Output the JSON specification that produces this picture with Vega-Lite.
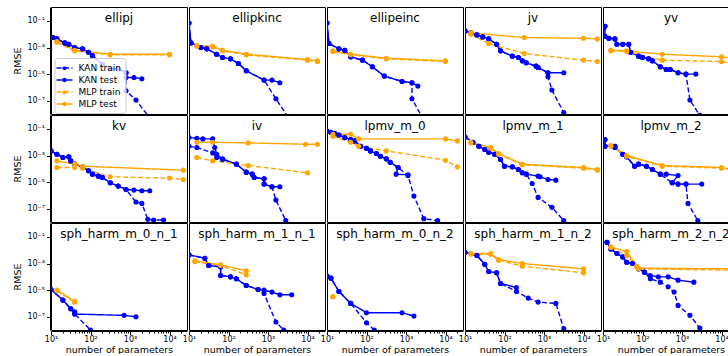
{
"$schema": "https://vega.github.io/schema/vega-lite/v6.json",
"padding": {"left": 12, "top": 6, "right": 0, "bottom": 0},
"data": {"values": [
{"f":"ellipj","s":"KAN train","x":11.2,"y":5.62e-3},{"f":"ellipj","s":"KAN train","x":14.1,"y":4.47e-3},{"f":"ellipj","s":"KAN train","x":22.4,"y":2.24e-3},{"f":"ellipj","s":"KAN train","x":28.2,"y":1.78e-3},{"f":"ellipj","s":"KAN train","x":39.8,"y":1e-3},{"f":"ellipj","s":"KAN train","x":63.1,"y":7.94e-4},{"f":"ellipj","s":"KAN train","x":89.1,"y":4.47e-4},{"f":"ellipj","s":"KAN train","x":112,"y":2.51e-4},{"f":"ellipj","s":"KAN train","x":200,"y":5.62e-5},{"f":"ellipj","s":"KAN train","x":316,"y":2.51e-5},{"f":"ellipj","s":"KAN train","x":501,"y":2.51e-5},{"f":"ellipj","s":"KAN train","x":794,"y":1.26e-5},{"f":"ellipj","s":"KAN train","x":794,"y":5.62e-7},{"f":"ellipj","s":"KAN train","x":1413,"y":1.12e-7},{"f":"ellipj","s":"KAN train","x":3162,"y":5.01e-9},
{"f":"ellipj","s":"KAN test","x":11.2,"y":5.62e-3},{"f":"ellipj","s":"KAN test","x":14.1,"y":4.47e-3},{"f":"ellipj","s":"KAN test","x":22.4,"y":2.24e-3},{"f":"ellipj","s":"KAN test","x":28.2,"y":1.78e-3},{"f":"ellipj","s":"KAN test","x":39.8,"y":1e-3},{"f":"ellipj","s":"KAN test","x":63.1,"y":7.94e-4},{"f":"ellipj","s":"KAN test","x":89.1,"y":4.47e-4},{"f":"ellipj","s":"KAN test","x":112,"y":2.24e-4},{"f":"ellipj","s":"KAN test","x":200,"y":5.62e-5},{"f":"ellipj","s":"KAN test","x":316,"y":2.51e-5},{"f":"ellipj","s":"KAN test","x":501,"y":2.51e-5},{"f":"ellipj","s":"KAN test","x":794,"y":1.26e-5},{"f":"ellipj","s":"KAN test","x":794,"y":5.62e-6},{"f":"ellipj","s":"KAN test","x":1259,"y":5.62e-6},{"f":"ellipj","s":"KAN test","x":1995,"y":4.47e-6},
{"f":"ellipj","s":"MLP train","x":14.1,"y":2.51e-3},{"f":"ellipj","s":"MLP train","x":39.8,"y":5.62e-4},{"f":"ellipj","s":"MLP train","x":316,"y":2.82e-4},{"f":"ellipj","s":"MLP train","x":10000,"y":2.82e-4},
{"f":"ellipj","s":"MLP test","x":14.1,"y":2.82e-3},{"f":"ellipj","s":"MLP test","x":39.8,"y":6.31e-4},{"f":"ellipj","s":"MLP test","x":316,"y":3.16e-4},{"f":"ellipj","s":"MLP test","x":10000,"y":3.16e-4},

{"f":"ellipkinc","s":"KAN train","x":10,"y":7.08e-2},{"f":"ellipkinc","s":"KAN train","x":11.2,"y":2.24e-3},{"f":"ellipkinc","s":"KAN train","x":20,"y":1e-3},{"f":"ellipkinc","s":"KAN train","x":28.2,"y":7.94e-4},{"f":"ellipkinc","s":"KAN train","x":50.1,"y":3.16e-4},{"f":"ellipkinc","s":"KAN train","x":70.8,"y":1.78e-4},{"f":"ellipkinc","s":"KAN train","x":112,"y":1.41e-4},{"f":"ellipkinc","s":"KAN train","x":178,"y":6.31e-5},{"f":"ellipkinc","s":"KAN train","x":282,"y":1.78e-5},{"f":"ellipkinc","s":"KAN train","x":794,"y":3.55e-6},{"f":"ellipkinc","s":"KAN train","x":1585,"y":1.41e-7},{"f":"ellipkinc","s":"KAN train","x":3162,"y":6.31e-9},
{"f":"ellipkinc","s":"KAN test","x":10,"y":7.08e-2},{"f":"ellipkinc","s":"KAN test","x":11.2,"y":2.24e-3},{"f":"ellipkinc","s":"KAN test","x":20,"y":1e-3},{"f":"ellipkinc","s":"KAN test","x":28.2,"y":7.94e-4},{"f":"ellipkinc","s":"KAN test","x":50.1,"y":3.16e-4},{"f":"ellipkinc","s":"KAN test","x":70.8,"y":1.78e-4},{"f":"ellipkinc","s":"KAN test","x":112,"y":1.41e-4},{"f":"ellipkinc","s":"KAN test","x":178,"y":6.31e-5},{"f":"ellipkinc","s":"KAN test","x":282,"y":1.78e-5},{"f":"ellipkinc","s":"KAN test","x":794,"y":3.55e-6},{"f":"ellipkinc","s":"KAN test","x":1259,"y":3.55e-6},{"f":"ellipkinc","s":"KAN test","x":1995,"y":2.24e-6},
{"f":"ellipkinc","s":"MLP train","x":15.8,"y":1.26e-3},{"f":"ellipkinc","s":"MLP train","x":39.8,"y":1.12e-3},{"f":"ellipkinc","s":"MLP train","x":70.8,"y":5.62e-4},{"f":"ellipkinc","s":"MLP train","x":282,"y":2.82e-4},{"f":"ellipkinc","s":"MLP train","x":10000,"y":1.12e-4},{"f":"ellipkinc","s":"MLP train","x":17783,"y":8.91e-5},
{"f":"ellipkinc","s":"MLP test","x":15.8,"y":1.41e-3},{"f":"ellipkinc","s":"MLP test","x":39.8,"y":1.26e-3},{"f":"ellipkinc","s":"MLP test","x":70.8,"y":6.31e-4},{"f":"ellipkinc","s":"MLP test","x":282,"y":3.16e-4},{"f":"ellipkinc","s":"MLP test","x":10000,"y":1.26e-4},{"f":"ellipkinc","s":"MLP test","x":17783,"y":1e-4},

{"f":"ellipeinc","s":"KAN train","x":10,"y":7.08e-2},{"f":"ellipeinc","s":"KAN train","x":11.2,"y":2e-3},{"f":"ellipeinc","s":"KAN train","x":20,"y":7.94e-4},{"f":"ellipeinc","s":"KAN train","x":28.2,"y":6.31e-4},{"f":"ellipeinc","s":"KAN train","x":39.8,"y":2e-4},{"f":"ellipeinc","s":"KAN train","x":79.4,"y":1.12e-4},{"f":"ellipeinc","s":"KAN train","x":141,"y":3.55e-5},{"f":"ellipeinc","s":"KAN train","x":282,"y":7.08e-6},{"f":"ellipeinc","s":"KAN train","x":794,"y":2.82e-6},{"f":"ellipeinc","s":"KAN train","x":1413,"y":2.24e-6},{"f":"ellipeinc","s":"KAN train","x":1413,"y":1.41e-7},{"f":"ellipeinc","s":"KAN train","x":2512,"y":6.31e-9},
{"f":"ellipeinc","s":"KAN test","x":10,"y":7.08e-2},{"f":"ellipeinc","s":"KAN test","x":11.2,"y":2e-3},{"f":"ellipeinc","s":"KAN test","x":20,"y":7.94e-4},{"f":"ellipeinc","s":"KAN test","x":28.2,"y":6.31e-4},{"f":"ellipeinc","s":"KAN test","x":39.8,"y":2e-4},{"f":"ellipeinc","s":"KAN test","x":79.4,"y":1.12e-4},{"f":"ellipeinc","s":"KAN test","x":141,"y":3.55e-5},{"f":"ellipeinc","s":"KAN test","x":282,"y":7.08e-6},{"f":"ellipeinc","s":"KAN test","x":794,"y":2.82e-6},{"f":"ellipeinc","s":"KAN test","x":1413,"y":2.24e-6},{"f":"ellipeinc","s":"KAN test","x":1995,"y":1.26e-6},
{"f":"ellipeinc","s":"MLP train","x":14.1,"y":5.01e-4},{"f":"ellipeinc","s":"MLP train","x":39.8,"y":2.82e-4},{"f":"ellipeinc","s":"MLP train","x":316,"y":1.41e-4},{"f":"ellipeinc","s":"MLP train","x":10000,"y":8.91e-5},
{"f":"ellipeinc","s":"MLP test","x":14.1,"y":5.62e-4},{"f":"ellipeinc","s":"MLP test","x":39.8,"y":3.16e-4},{"f":"ellipeinc","s":"MLP test","x":316,"y":1.58e-4},{"f":"ellipeinc","s":"MLP test","x":10000,"y":1e-4},

{"f":"jv","s":"KAN train","x":10,"y":1.78e-2},{"f":"jv","s":"KAN train","x":14.1,"y":1.26e-2},{"f":"jv","s":"KAN train","x":20,"y":8.91e-3},{"f":"jv","s":"KAN train","x":28.2,"y":6.31e-3},{"f":"jv","s":"KAN train","x":39.8,"y":4.47e-3},{"f":"jv","s":"KAN train","x":63.1,"y":1.78e-3},{"f":"jv","s":"KAN train","x":79.4,"y":5.62e-4},{"f":"jv","s":"KAN train","x":158,"y":2.24e-4},{"f":"jv","s":"KAN train","x":224,"y":1.78e-4},{"f":"jv","s":"KAN train","x":282,"y":1e-4},{"f":"jv","s":"KAN train","x":355,"y":7.08e-5},{"f":"jv","s":"KAN train","x":631,"y":3.98e-5},{"f":"jv","s":"KAN train","x":708,"y":3.16e-5},{"f":"jv","s":"KAN train","x":1259,"y":1.26e-5},{"f":"jv","s":"KAN train","x":1259,"y":6.31e-6},{"f":"jv","s":"KAN train","x":1585,"y":6.31e-7},{"f":"jv","s":"KAN train","x":3162,"y":1.26e-8},{"f":"jv","s":"KAN train","x":3981,"y":5.01e-9},
{"f":"jv","s":"KAN test","x":10,"y":1.78e-2},{"f":"jv","s":"KAN test","x":14.1,"y":1.26e-2},{"f":"jv","s":"KAN test","x":20,"y":8.91e-3},{"f":"jv","s":"KAN test","x":28.2,"y":6.31e-3},{"f":"jv","s":"KAN test","x":39.8,"y":4.47e-3},{"f":"jv","s":"KAN test","x":63.1,"y":1.78e-3},{"f":"jv","s":"KAN test","x":79.4,"y":5.62e-4},{"f":"jv","s":"KAN test","x":158,"y":2.24e-4},{"f":"jv","s":"KAN test","x":224,"y":1.78e-4},{"f":"jv","s":"KAN test","x":282,"y":1e-4},{"f":"jv","s":"KAN test","x":355,"y":7.08e-5},{"f":"jv","s":"KAN test","x":631,"y":3.98e-5},{"f":"jv","s":"KAN test","x":708,"y":3.16e-5},{"f":"jv","s":"KAN test","x":1259,"y":1.26e-5},{"f":"jv","s":"KAN test","x":3162,"y":1.26e-5},
{"f":"jv","s":"MLP train","x":14.1,"y":1e-2},{"f":"jv","s":"MLP train","x":39.8,"y":2e-3},{"f":"jv","s":"MLP train","x":316,"y":3.55e-4},{"f":"jv","s":"MLP train","x":10000,"y":1.12e-4},{"f":"jv","s":"MLP train","x":22387,"y":8.91e-5},
{"f":"jv","s":"MLP test","x":14.1,"y":1.26e-2},{"f":"jv","s":"MLP test","x":316,"y":5.62e-3},{"f":"jv","s":"MLP test","x":10000,"y":5.01e-3},{"f":"jv","s":"MLP test","x":22387,"y":4.47e-3},

{"f":"yv","s":"KAN train","x":11.2,"y":3.98e-2},{"f":"yv","s":"KAN train","x":11.2,"y":7.08e-3},{"f":"yv","s":"KAN train","x":14.1,"y":5.01e-3},{"f":"yv","s":"KAN train","x":20,"y":4.47e-3},{"f":"yv","s":"KAN train","x":22.4,"y":1.78e-3},{"f":"yv","s":"KAN train","x":31.6,"y":1.78e-3},{"f":"yv","s":"KAN train","x":44.7,"y":1.78e-3},{"f":"yv","s":"KAN train","x":50.1,"y":4.47e-4},{"f":"yv","s":"KAN train","x":79.4,"y":2.24e-4},{"f":"yv","s":"KAN train","x":100,"y":1.78e-4},{"f":"yv","s":"KAN train","x":141,"y":1.41e-4},{"f":"yv","s":"KAN train","x":178,"y":1e-4},{"f":"yv","s":"KAN train","x":282,"y":3.55e-5},{"f":"yv","s":"KAN train","x":398,"y":2.24e-5},{"f":"yv","s":"KAN train","x":501,"y":2.24e-5},{"f":"yv","s":"KAN train","x":794,"y":1.26e-5},{"f":"yv","s":"KAN train","x":1259,"y":1e-5},{"f":"yv","s":"KAN train","x":1585,"y":1.12e-7},{"f":"yv","s":"KAN train","x":2818,"y":7.94e-9},
{"f":"yv","s":"KAN test","x":11.2,"y":3.98e-2},{"f":"yv","s":"KAN test","x":11.2,"y":7.08e-3},{"f":"yv","s":"KAN test","x":14.1,"y":5.01e-3},{"f":"yv","s":"KAN test","x":20,"y":4.47e-3},{"f":"yv","s":"KAN test","x":22.4,"y":1.78e-3},{"f":"yv","s":"KAN test","x":31.6,"y":1.78e-3},{"f":"yv","s":"KAN test","x":44.7,"y":1.78e-3},{"f":"yv","s":"KAN test","x":50.1,"y":4.47e-4},{"f":"yv","s":"KAN test","x":79.4,"y":2.24e-4},{"f":"yv","s":"KAN test","x":100,"y":1.78e-4},{"f":"yv","s":"KAN test","x":141,"y":1.41e-4},{"f":"yv","s":"KAN test","x":178,"y":1e-4},{"f":"yv","s":"KAN test","x":282,"y":3.55e-5},{"f":"yv","s":"KAN test","x":398,"y":2.24e-5},{"f":"yv","s":"KAN test","x":501,"y":2.24e-5},{"f":"yv","s":"KAN test","x":794,"y":1.26e-5},{"f":"yv","s":"KAN test","x":1259,"y":1e-5},{"f":"yv","s":"KAN test","x":2239,"y":1e-5},
{"f":"yv","s":"MLP train","x":15.8,"y":5.62e-4},{"f":"yv","s":"MLP train","x":39.8,"y":5.01e-4},{"f":"yv","s":"MLP train","x":316,"y":1.12e-4},{"f":"yv","s":"MLP train","x":10000,"y":8.91e-5},{"f":"yv","s":"MLP train","x":19953,"y":6.31e-5},
{"f":"yv","s":"MLP test","x":15.8,"y":6.31e-4},{"f":"yv","s":"MLP test","x":39.8,"y":5.62e-4},{"f":"yv","s":"MLP test","x":316,"y":3.16e-4},{"f":"yv","s":"MLP test","x":10000,"y":2e-4},{"f":"yv","s":"MLP test","x":19953,"y":1.58e-4},

{"f":"kv","s":"KAN train","x":10,"y":2.24e-3},{"f":"kv","s":"KAN train","x":14.1,"y":1.26e-3},{"f":"kv","s":"KAN train","x":20,"y":7.08e-4},{"f":"kv","s":"KAN train","x":28.2,"y":7.94e-4},{"f":"kv","s":"KAN train","x":31.6,"y":3.98e-4},{"f":"kv","s":"KAN train","x":39.8,"y":2.24e-4},{"f":"kv","s":"KAN train","x":63.1,"y":1.41e-4},{"f":"kv","s":"KAN train","x":89.1,"y":7.08e-5},{"f":"kv","s":"KAN train","x":112,"y":3.98e-5},{"f":"kv","s":"KAN train","x":158,"y":2.82e-5},{"f":"kv","s":"KAN train","x":200,"y":2.24e-5},{"f":"kv","s":"KAN train","x":316,"y":8.91e-6},{"f":"kv","s":"KAN train","x":501,"y":5.01e-6},{"f":"kv","s":"KAN train","x":794,"y":2.82e-6},{"f":"kv","s":"KAN train","x":1413,"y":3.16e-7},{"f":"kv","s":"KAN train","x":1995,"y":2.51e-7},{"f":"kv","s":"KAN train","x":2818,"y":1.58e-8},{"f":"kv","s":"KAN train","x":3981,"y":1.41e-8},{"f":"kv","s":"KAN train","x":7079,"y":1.41e-8},
{"f":"kv","s":"KAN test","x":10,"y":2.24e-3},{"f":"kv","s":"KAN test","x":14.1,"y":1.26e-3},{"f":"kv","s":"KAN test","x":20,"y":7.08e-4},{"f":"kv","s":"KAN test","x":28.2,"y":7.94e-4},{"f":"kv","s":"KAN test","x":31.6,"y":3.98e-4},{"f":"kv","s":"KAN test","x":39.8,"y":2.24e-4},{"f":"kv","s":"KAN test","x":63.1,"y":1.41e-4},{"f":"kv","s":"KAN test","x":89.1,"y":7.08e-5},{"f":"kv","s":"KAN test","x":112,"y":3.98e-5},{"f":"kv","s":"KAN test","x":158,"y":2.82e-5},{"f":"kv","s":"KAN test","x":200,"y":2.24e-5},{"f":"kv","s":"KAN test","x":316,"y":8.91e-6},{"f":"kv","s":"KAN test","x":501,"y":5.01e-6},{"f":"kv","s":"KAN test","x":794,"y":2.82e-6},{"f":"kv","s":"KAN test","x":1259,"y":2.51e-6},{"f":"kv","s":"KAN test","x":1995,"y":2.24e-6},{"f":"kv","s":"KAN test","x":3162,"y":2.24e-6},
{"f":"kv","s":"MLP train","x":14.1,"y":1.26e-4},{"f":"kv","s":"MLP train","x":39.8,"y":1.26e-4},{"f":"kv","s":"MLP train","x":63.1,"y":1.12e-4},{"f":"kv","s":"MLP train","x":316,"y":2.51e-5},{"f":"kv","s":"MLP train","x":10000,"y":2e-5},{"f":"kv","s":"MLP train","x":22387,"y":1.58e-5},
{"f":"kv","s":"MLP test","x":14.1,"y":3.98e-4},{"f":"kv","s":"MLP test","x":39.8,"y":2.24e-4},{"f":"kv","s":"MLP test","x":63.1,"y":1.58e-4},{"f":"kv","s":"MLP test","x":22387,"y":7.94e-5},

{"f":"iv","s":"KAN train","x":10,"y":5.01e-3},{"f":"iv","s":"KAN train","x":15.8,"y":3.98e-3},{"f":"iv","s":"KAN train","x":39.8,"y":1.58e-3},{"f":"iv","s":"KAN train","x":50.1,"y":7.08e-4},{"f":"iv","s":"KAN train","x":70.8,"y":5.01e-4},{"f":"iv","s":"KAN train","x":158,"y":2.24e-4},{"f":"iv","s":"KAN train","x":282,"y":5.62e-5},{"f":"iv","s":"KAN train","x":398,"y":3.98e-5},{"f":"iv","s":"KAN train","x":447,"y":2.24e-5},{"f":"iv","s":"KAN train","x":794,"y":1.78e-5},{"f":"iv","s":"KAN train","x":794,"y":7.08e-6},{"f":"iv","s":"KAN train","x":1259,"y":4.47e-6},{"f":"iv","s":"KAN train","x":1585,"y":4.47e-7},{"f":"iv","s":"KAN train","x":2818,"y":1.26e-8},{"f":"iv","s":"KAN train","x":3548,"y":5.01e-9},
{"f":"iv","s":"KAN test","x":10,"y":2.24e-2},{"f":"iv","s":"KAN test","x":15.8,"y":2e-2},{"f":"iv","s":"KAN test","x":22.4,"y":1.78e-2},{"f":"iv","s":"KAN test","x":39.8,"y":1.78e-2},{"f":"iv","s":"KAN test","x":44.7,"y":3.98e-3},{"f":"iv","s":"KAN test","x":50.1,"y":1.26e-3},{"f":"iv","s":"KAN test","x":70.8,"y":5.62e-4},{"f":"iv","s":"KAN test","x":158,"y":2.24e-4},{"f":"iv","s":"KAN test","x":282,"y":5.62e-5},{"f":"iv","s":"KAN test","x":398,"y":3.98e-5},{"f":"iv","s":"KAN test","x":447,"y":2.24e-5},{"f":"iv","s":"KAN test","x":794,"y":1.78e-5},{"f":"iv","s":"KAN test","x":794,"y":7.08e-6},{"f":"iv","s":"KAN test","x":1259,"y":4.47e-6},{"f":"iv","s":"KAN test","x":1995,"y":4.47e-6},
{"f":"iv","s":"MLP train","x":15.8,"y":7.08e-4},{"f":"iv","s":"MLP train","x":39.8,"y":3.98e-4},{"f":"iv","s":"MLP train","x":316,"y":1.78e-4},{"f":"iv","s":"MLP train","x":10000,"y":5.01e-5},
{"f":"iv","s":"MLP test","x":15.8,"y":1e-2},{"f":"iv","s":"MLP test","x":39.8,"y":1e-2},{"f":"iv","s":"MLP test","x":316,"y":8.91e-3},{"f":"iv","s":"MLP test","x":8913,"y":7.08e-3},{"f":"iv","s":"MLP test","x":17783,"y":7.08e-3},

{"f":"lpmv_m_0","s":"KAN train","x":10,"y":7.08e-2},{"f":"lpmv_m_0","s":"KAN train","x":12.6,"y":5.62e-2},{"f":"lpmv_m_0","s":"KAN train","x":15.8,"y":4.47e-2},{"f":"lpmv_m_0","s":"KAN train","x":20,"y":3.55e-2},{"f":"lpmv_m_0","s":"KAN train","x":28.2,"y":2.24e-2},{"f":"lpmv_m_0","s":"KAN train","x":39.8,"y":1.58e-2},{"f":"lpmv_m_0","s":"KAN train","x":50.1,"y":1.26e-2},{"f":"lpmv_m_0","s":"KAN train","x":70.8,"y":5.01e-3},{"f":"lpmv_m_0","s":"KAN train","x":100,"y":3.55e-3},{"f":"lpmv_m_0","s":"KAN train","x":126,"y":2.24e-3},{"f":"lpmv_m_0","s":"KAN train","x":178,"y":1.41e-3},{"f":"lpmv_m_0","s":"KAN train","x":224,"y":8.91e-4},{"f":"lpmv_m_0","s":"KAN train","x":316,"y":5.62e-4},{"f":"lpmv_m_0","s":"KAN train","x":398,"y":3.16e-4},{"f":"lpmv_m_0","s":"KAN train","x":631,"y":1.26e-4},{"f":"lpmv_m_0","s":"KAN train","x":1122,"y":3.16e-5},{"f":"lpmv_m_0","s":"KAN train","x":1585,"y":8.91e-7},{"f":"lpmv_m_0","s":"KAN train","x":2818,"y":1.78e-8},{"f":"lpmv_m_0","s":"KAN train","x":6310,"y":1.26e-8},
{"f":"lpmv_m_0","s":"KAN test","x":10,"y":7.08e-2},{"f":"lpmv_m_0","s":"KAN test","x":12.6,"y":5.62e-2},{"f":"lpmv_m_0","s":"KAN test","x":15.8,"y":4.47e-2},{"f":"lpmv_m_0","s":"KAN test","x":20,"y":3.55e-2},{"f":"lpmv_m_0","s":"KAN test","x":28.2,"y":2.24e-2},{"f":"lpmv_m_0","s":"KAN test","x":39.8,"y":1.58e-2},{"f":"lpmv_m_0","s":"KAN test","x":50.1,"y":1.26e-2},{"f":"lpmv_m_0","s":"KAN test","x":70.8,"y":5.01e-3},{"f":"lpmv_m_0","s":"KAN test","x":100,"y":3.55e-3},{"f":"lpmv_m_0","s":"KAN test","x":126,"y":2.24e-3},{"f":"lpmv_m_0","s":"KAN test","x":178,"y":1.41e-3},{"f":"lpmv_m_0","s":"KAN test","x":224,"y":8.91e-4},{"f":"lpmv_m_0","s":"KAN test","x":316,"y":5.62e-4},{"f":"lpmv_m_0","s":"KAN test","x":398,"y":3.16e-4},{"f":"lpmv_m_0","s":"KAN test","x":631,"y":1.26e-4},{"f":"lpmv_m_0","s":"KAN test","x":562,"y":3.98e-5},{"f":"lpmv_m_0","s":"KAN test","x":1122,"y":3.55e-5},
{"f":"lpmv_m_0","s":"MLP train","x":14.1,"y":2.82e-2},{"f":"lpmv_m_0","s":"MLP train","x":39.8,"y":1e-2},{"f":"lpmv_m_0","s":"MLP train","x":63.1,"y":5.01e-3},{"f":"lpmv_m_0","s":"MLP train","x":316,"y":2.24e-3},{"f":"lpmv_m_0","s":"MLP train","x":10000,"y":4.47e-4},{"f":"lpmv_m_0","s":"MLP train","x":19953,"y":1.41e-4},
{"f":"lpmv_m_0","s":"MLP test","x":14.1,"y":3.98e-2},{"f":"lpmv_m_0","s":"MLP test","x":39.8,"y":3.98e-2},{"f":"lpmv_m_0","s":"MLP test","x":63.1,"y":1.78e-2},{"f":"lpmv_m_0","s":"MLP test","x":10000,"y":1.78e-2},{"f":"lpmv_m_0","s":"MLP test","x":19953,"y":1.26e-2},

{"f":"lpmv_m_1","s":"KAN train","x":10,"y":2.51e-2},{"f":"lpmv_m_1","s":"KAN train","x":15.8,"y":1e-2},{"f":"lpmv_m_1","s":"KAN train","x":22.4,"y":5.01e-3},{"f":"lpmv_m_1","s":"KAN train","x":31.6,"y":2.82e-3},{"f":"lpmv_m_1","s":"KAN train","x":39.8,"y":1.78e-3},{"f":"lpmv_m_1","s":"KAN train","x":56.2,"y":1.26e-3},{"f":"lpmv_m_1","s":"KAN train","x":79.4,"y":5.01e-4},{"f":"lpmv_m_1","s":"KAN train","x":100,"y":1.58e-4},{"f":"lpmv_m_1","s":"KAN train","x":158,"y":1.41e-4},{"f":"lpmv_m_1","s":"KAN train","x":224,"y":8.91e-5},{"f":"lpmv_m_1","s":"KAN train","x":282,"y":5.01e-5},{"f":"lpmv_m_1","s":"KAN train","x":355,"y":3.98e-5},{"f":"lpmv_m_1","s":"KAN train","x":501,"y":7.94e-6},{"f":"lpmv_m_1","s":"KAN train","x":708,"y":7.08e-7},{"f":"lpmv_m_1","s":"KAN train","x":1585,"y":1.26e-7},{"f":"lpmv_m_1","s":"KAN train","x":3162,"y":1.26e-8},{"f":"lpmv_m_1","s":"KAN train","x":3981,"y":5.01e-9},
{"f":"lpmv_m_1","s":"KAN test","x":10,"y":2.51e-2},{"f":"lpmv_m_1","s":"KAN test","x":15.8,"y":1e-2},{"f":"lpmv_m_1","s":"KAN test","x":22.4,"y":5.01e-3},{"f":"lpmv_m_1","s":"KAN test","x":31.6,"y":2.82e-3},{"f":"lpmv_m_1","s":"KAN test","x":39.8,"y":1.78e-3},{"f":"lpmv_m_1","s":"KAN test","x":56.2,"y":1.26e-3},{"f":"lpmv_m_1","s":"KAN test","x":79.4,"y":5.01e-4},{"f":"lpmv_m_1","s":"KAN test","x":100,"y":1.58e-4},{"f":"lpmv_m_1","s":"KAN test","x":158,"y":1.41e-4},{"f":"lpmv_m_1","s":"KAN test","x":224,"y":8.91e-5},{"f":"lpmv_m_1","s":"KAN test","x":282,"y":5.01e-5},{"f":"lpmv_m_1","s":"KAN test","x":355,"y":3.98e-5},{"f":"lpmv_m_1","s":"KAN test","x":708,"y":2.82e-5},{"f":"lpmv_m_1","s":"KAN test","x":794,"y":2.51e-5},{"f":"lpmv_m_1","s":"KAN test","x":1259,"y":1.58e-5},{"f":"lpmv_m_1","s":"KAN test","x":1995,"y":1.41e-5},
{"f":"lpmv_m_1","s":"MLP train","x":14.1,"y":8.91e-3},{"f":"lpmv_m_1","s":"MLP train","x":44.7,"y":3.55e-3},{"f":"lpmv_m_1","s":"MLP train","x":70.8,"y":1.26e-3},{"f":"lpmv_m_1","s":"MLP train","x":282,"y":2e-4},{"f":"lpmv_m_1","s":"MLP train","x":10000,"y":1.12e-4},{"f":"lpmv_m_1","s":"MLP train","x":22387,"y":7.94e-5},
{"f":"lpmv_m_1","s":"MLP test","x":14.1,"y":1e-2},{"f":"lpmv_m_1","s":"MLP test","x":44.7,"y":3.98e-3},{"f":"lpmv_m_1","s":"MLP test","x":70.8,"y":1.41e-3},{"f":"lpmv_m_1","s":"MLP test","x":282,"y":2.24e-4},{"f":"lpmv_m_1","s":"MLP test","x":10000,"y":1.26e-4},{"f":"lpmv_m_1","s":"MLP test","x":22387,"y":8.91e-5},

{"f":"lpmv_m_2","s":"KAN train","x":11.2,"y":1.58e-2},{"f":"lpmv_m_2","s":"KAN train","x":11.2,"y":5.01e-3},{"f":"lpmv_m_2","s":"KAN train","x":20,"y":5.01e-3},{"f":"lpmv_m_2","s":"KAN train","x":20,"y":3.98e-3},{"f":"lpmv_m_2","s":"KAN train","x":31.6,"y":1.26e-3},{"f":"lpmv_m_2","s":"KAN train","x":39.8,"y":7.94e-4},{"f":"lpmv_m_2","s":"KAN train","x":63.1,"y":1.58e-4},{"f":"lpmv_m_2","s":"KAN train","x":79.4,"y":2.24e-4},{"f":"lpmv_m_2","s":"KAN train","x":126,"y":1.58e-4},{"f":"lpmv_m_2","s":"KAN train","x":178,"y":8.91e-5},{"f":"lpmv_m_2","s":"KAN train","x":282,"y":3.98e-5},{"f":"lpmv_m_2","s":"KAN train","x":562,"y":8.91e-6},{"f":"lpmv_m_2","s":"KAN train","x":794,"y":7.08e-6},{"f":"lpmv_m_2","s":"KAN train","x":1259,"y":7.08e-6},{"f":"lpmv_m_2","s":"KAN train","x":1413,"y":2.51e-7},{"f":"lpmv_m_2","s":"KAN train","x":2512,"y":1.26e-8},{"f":"lpmv_m_2","s":"KAN train","x":3162,"y":5.01e-9},
{"f":"lpmv_m_2","s":"KAN test","x":11.2,"y":1.58e-2},{"f":"lpmv_m_2","s":"KAN test","x":11.2,"y":5.01e-3},{"f":"lpmv_m_2","s":"KAN test","x":20,"y":5.01e-3},{"f":"lpmv_m_2","s":"KAN test","x":20,"y":3.98e-3},{"f":"lpmv_m_2","s":"KAN test","x":31.6,"y":1.26e-3},{"f":"lpmv_m_2","s":"KAN test","x":39.8,"y":7.94e-4},{"f":"lpmv_m_2","s":"KAN test","x":63.1,"y":1.58e-4},{"f":"lpmv_m_2","s":"KAN test","x":79.4,"y":2.24e-4},{"f":"lpmv_m_2","s":"KAN test","x":126,"y":1.58e-4},{"f":"lpmv_m_2","s":"KAN test","x":178,"y":8.91e-5},{"f":"lpmv_m_2","s":"KAN test","x":282,"y":3.98e-5},{"f":"lpmv_m_2","s":"KAN test","x":398,"y":3.98e-5},{"f":"lpmv_m_2","s":"KAN test","x":794,"y":3.16e-5},{"f":"lpmv_m_2","s":"KAN test","x":562,"y":8.91e-6},{"f":"lpmv_m_2","s":"KAN test","x":794,"y":7.08e-6},{"f":"lpmv_m_2","s":"KAN test","x":1259,"y":7.08e-6},{"f":"lpmv_m_2","s":"KAN test","x":3162,"y":7.08e-6},
{"f":"lpmv_m_2","s":"MLP train","x":15.8,"y":5.01e-3},{"f":"lpmv_m_2","s":"MLP train","x":39.8,"y":8.91e-4},{"f":"lpmv_m_2","s":"MLP train","x":316,"y":1.58e-4},{"f":"lpmv_m_2","s":"MLP train","x":10000,"y":1.12e-4},{"f":"lpmv_m_2","s":"MLP train","x":19953,"y":7.94e-5},
{"f":"lpmv_m_2","s":"MLP test","x":15.8,"y":5.62e-3},{"f":"lpmv_m_2","s":"MLP test","x":39.8,"y":1e-3},{"f":"lpmv_m_2","s":"MLP test","x":316,"y":1.78e-4},{"f":"lpmv_m_2","s":"MLP test","x":10000,"y":1.26e-4},{"f":"lpmv_m_2","s":"MLP test","x":19953,"y":8.91e-5},

{"f":"sph_harm_m_0_n_1","s":"KAN train","x":7.94,"y":5.01e-5},{"f":"sph_harm_m_0_n_1","s":"KAN train","x":10,"y":1.12e-5},{"f":"sph_harm_m_0_n_1","s":"KAN train","x":20,"y":1.78e-6},{"f":"sph_harm_m_0_n_1","s":"KAN train","x":31.6,"y":3.98e-7},{"f":"sph_harm_m_0_n_1","s":"KAN train","x":39.8,"y":2.24e-7},{"f":"sph_harm_m_0_n_1","s":"KAN train","x":39.8,"y":1.58e-7},{"f":"sph_harm_m_0_n_1","s":"KAN train","x":100,"y":1e-8},{"f":"sph_harm_m_0_n_1","s":"KAN train","x":126,"y":5.01e-9},
{"f":"sph_harm_m_0_n_1","s":"KAN test","x":10,"y":1.12e-5},{"f":"sph_harm_m_0_n_1","s":"KAN test","x":20,"y":1.78e-6},{"f":"sph_harm_m_0_n_1","s":"KAN test","x":31.6,"y":3.98e-7},{"f":"sph_harm_m_0_n_1","s":"KAN test","x":39.8,"y":2.24e-7},{"f":"sph_harm_m_0_n_1","s":"KAN test","x":39.8,"y":1.58e-7},{"f":"sph_harm_m_0_n_1","s":"KAN test","x":708,"y":1.26e-7},{"f":"sph_harm_m_0_n_1","s":"KAN test","x":1413,"y":1e-7},
{"f":"sph_harm_m_0_n_1","s":"MLP train","x":14.1,"y":8.91e-6},{"f":"sph_harm_m_0_n_1","s":"MLP train","x":39.8,"y":1.26e-6},
{"f":"sph_harm_m_0_n_1","s":"MLP test","x":14.1,"y":1e-5},{"f":"sph_harm_m_0_n_1","s":"MLP test","x":39.8,"y":1.41e-6},

{"f":"sph_harm_m_1_n_1","s":"KAN train","x":10,"y":4.47e-3},{"f":"sph_harm_m_1_n_1","s":"KAN train","x":25.1,"y":2.51e-3},{"f":"sph_harm_m_1_n_1","s":"KAN train","x":31.6,"y":7.08e-4},{"f":"sph_harm_m_1_n_1","s":"KAN train","x":63.1,"y":5.62e-4},{"f":"sph_harm_m_1_n_1","s":"KAN train","x":63.1,"y":1.26e-4},{"f":"sph_harm_m_1_n_1","s":"KAN train","x":112,"y":1e-4},{"f":"sph_harm_m_1_n_1","s":"KAN train","x":158,"y":7.08e-5},{"f":"sph_harm_m_1_n_1","s":"KAN train","x":282,"y":2.24e-5},{"f":"sph_harm_m_1_n_1","s":"KAN train","x":562,"y":1.12e-5},{"f":"sph_harm_m_1_n_1","s":"KAN train","x":794,"y":5.62e-6},{"f":"sph_harm_m_1_n_1","s":"KAN train","x":1585,"y":3.98e-8},{"f":"sph_harm_m_1_n_1","s":"KAN train","x":2512,"y":1e-8},{"f":"sph_harm_m_1_n_1","s":"KAN train","x":3162,"y":3.98e-9},
{"f":"sph_harm_m_1_n_1","s":"KAN test","x":10,"y":4.47e-3},{"f":"sph_harm_m_1_n_1","s":"KAN test","x":25.1,"y":2.51e-3},{"f":"sph_harm_m_1_n_1","s":"KAN test","x":31.6,"y":7.08e-4},{"f":"sph_harm_m_1_n_1","s":"KAN test","x":63.1,"y":5.62e-4},{"f":"sph_harm_m_1_n_1","s":"KAN test","x":63.1,"y":1.26e-4},{"f":"sph_harm_m_1_n_1","s":"KAN test","x":112,"y":1e-4},{"f":"sph_harm_m_1_n_1","s":"KAN test","x":158,"y":7.08e-5},{"f":"sph_harm_m_1_n_1","s":"KAN test","x":282,"y":2.24e-5},{"f":"sph_harm_m_1_n_1","s":"KAN test","x":562,"y":1.12e-5},{"f":"sph_harm_m_1_n_1","s":"KAN test","x":794,"y":1e-5},{"f":"sph_harm_m_1_n_1","s":"KAN test","x":1259,"y":7.08e-6},{"f":"sph_harm_m_1_n_1","s":"KAN test","x":1995,"y":4.47e-6},{"f":"sph_harm_m_1_n_1","s":"KAN test","x":3981,"y":4.47e-6},
{"f":"sph_harm_m_1_n_1","s":"MLP train","x":14.1,"y":1.41e-3},{"f":"sph_harm_m_1_n_1","s":"MLP train","x":63.1,"y":7.08e-4},{"f":"sph_harm_m_1_n_1","s":"MLP train","x":282,"y":1.41e-4},
{"f":"sph_harm_m_1_n_1","s":"MLP test","x":14.1,"y":1.58e-3},{"f":"sph_harm_m_1_n_1","s":"MLP test","x":63.1,"y":7.94e-4},{"f":"sph_harm_m_1_n_1","s":"MLP test","x":282,"y":2.82e-4},

{"f":"sph_harm_m_0_n_2","s":"KAN train","x":10,"y":1.12e-4},{"f":"sph_harm_m_0_n_2","s":"KAN train","x":12.6,"y":7.94e-5},{"f":"sph_harm_m_0_n_2","s":"KAN train","x":20,"y":7.94e-6},{"f":"sph_harm_m_0_n_2","s":"KAN train","x":39.8,"y":1e-6},{"f":"sph_harm_m_0_n_2","s":"KAN train","x":100,"y":3.55e-8},{"f":"sph_harm_m_0_n_2","s":"KAN train","x":158,"y":1e-8},{"f":"sph_harm_m_0_n_2","s":"KAN train","x":200,"y":5.01e-9},
{"f":"sph_harm_m_0_n_2","s":"KAN test","x":10,"y":1.12e-4},{"f":"sph_harm_m_0_n_2","s":"KAN test","x":12.6,"y":7.94e-5},{"f":"sph_harm_m_0_n_2","s":"KAN test","x":20,"y":7.94e-6},{"f":"sph_harm_m_0_n_2","s":"KAN test","x":39.8,"y":1e-6},{"f":"sph_harm_m_0_n_2","s":"KAN test","x":100,"y":2e-7},{"f":"sph_harm_m_0_n_2","s":"KAN test","x":794,"y":2e-7},{"f":"sph_harm_m_0_n_2","s":"KAN test","x":1585,"y":1.12e-7},
{"f":"sph_harm_m_0_n_2","s":"MLP train","x":14.1,"y":3.16e-6},
{"f":"sph_harm_m_0_n_2","s":"MLP test","x":14.1,"y":3.16e-6},

{"f":"sph_harm_m_1_n_2","s":"KAN train","x":10,"y":7.08e-3},{"f":"sph_harm_m_1_n_2","s":"KAN train","x":20,"y":3.98e-3},{"f":"sph_harm_m_1_n_2","s":"KAN train","x":31.6,"y":8.91e-4},{"f":"sph_harm_m_1_n_2","s":"KAN train","x":39.8,"y":2.51e-4},{"f":"sph_harm_m_1_n_2","s":"KAN train","x":63.1,"y":2e-4},{"f":"sph_harm_m_1_n_2","s":"KAN train","x":79.4,"y":3.16e-5},{"f":"sph_harm_m_1_n_2","s":"KAN train","x":200,"y":7.94e-6},{"f":"sph_harm_m_1_n_2","s":"KAN train","x":398,"y":2.51e-6},{"f":"sph_harm_m_1_n_2","s":"KAN train","x":708,"y":1.26e-6},{"f":"sph_harm_m_1_n_2","s":"KAN train","x":1995,"y":1e-6},{"f":"sph_harm_m_1_n_2","s":"KAN train","x":3162,"y":1.26e-8},{"f":"sph_harm_m_1_n_2","s":"KAN train","x":3981,"y":5.01e-9},
{"f":"sph_harm_m_1_n_2","s":"KAN test","x":10,"y":7.08e-3},{"f":"sph_harm_m_1_n_2","s":"KAN test","x":20,"y":3.98e-3},{"f":"sph_harm_m_1_n_2","s":"KAN test","x":31.6,"y":8.91e-4},{"f":"sph_harm_m_1_n_2","s":"KAN test","x":39.8,"y":2.51e-4},{"f":"sph_harm_m_1_n_2","s":"KAN test","x":63.1,"y":2e-4},{"f":"sph_harm_m_1_n_2","s":"KAN test","x":79.4,"y":3.16e-5},{"f":"sph_harm_m_1_n_2","s":"KAN test","x":200,"y":1.58e-5},
{"f":"sph_harm_m_1_n_2","s":"MLP train","x":14.1,"y":5.01e-3},{"f":"sph_harm_m_1_n_2","s":"MLP train","x":44.7,"y":5.01e-3},{"f":"sph_harm_m_1_n_2","s":"MLP train","x":70.8,"y":1.78e-3},{"f":"sph_harm_m_1_n_2","s":"MLP train","x":282,"y":6.31e-4},{"f":"sph_harm_m_1_n_2","s":"MLP train","x":10000,"y":2e-4},
{"f":"sph_harm_m_1_n_2","s":"MLP test","x":14.1,"y":5.62e-3},{"f":"sph_harm_m_1_n_2","s":"MLP test","x":44.7,"y":5.62e-3},{"f":"sph_harm_m_1_n_2","s":"MLP test","x":70.8,"y":2e-3},{"f":"sph_harm_m_1_n_2","s":"MLP test","x":282,"y":1e-3},{"f":"sph_harm_m_1_n_2","s":"MLP test","x":10000,"y":3.98e-4},

{"f":"sph_harm_m_2_n_2","s":"KAN train","x":12.6,"y":3.98e-2},{"f":"sph_harm_m_2_n_2","s":"KAN train","x":15.8,"y":1.26e-2},{"f":"sph_harm_m_2_n_2","s":"KAN train","x":22.4,"y":5.62e-3},{"f":"sph_harm_m_2_n_2","s":"KAN train","x":31.6,"y":3.16e-3},{"f":"sph_harm_m_2_n_2","s":"KAN train","x":39.8,"y":1.26e-3},{"f":"sph_harm_m_2_n_2","s":"KAN train","x":56.2,"y":1e-3},{"f":"sph_harm_m_2_n_2","s":"KAN train","x":79.4,"y":3.98e-4},{"f":"sph_harm_m_2_n_2","s":"KAN train","x":112,"y":2.24e-4},{"f":"sph_harm_m_2_n_2","s":"KAN train","x":158,"y":7.08e-5},{"f":"sph_harm_m_2_n_2","s":"KAN train","x":282,"y":3.98e-5},{"f":"sph_harm_m_2_n_2","s":"KAN train","x":447,"y":1.78e-5},{"f":"sph_harm_m_2_n_2","s":"KAN train","x":631,"y":7.08e-6},{"f":"sph_harm_m_2_n_2","s":"KAN train","x":794,"y":7.08e-7},{"f":"sph_harm_m_2_n_2","s":"KAN train","x":1585,"y":1.26e-7},{"f":"sph_harm_m_2_n_2","s":"KAN train","x":2818,"y":1.41e-8},{"f":"sph_harm_m_2_n_2","s":"KAN train","x":3162,"y":5.01e-9},
{"f":"sph_harm_m_2_n_2","s":"KAN test","x":12.6,"y":3.98e-2},{"f":"sph_harm_m_2_n_2","s":"KAN test","x":15.8,"y":1.26e-2},{"f":"sph_harm_m_2_n_2","s":"KAN test","x":22.4,"y":5.62e-3},{"f":"sph_harm_m_2_n_2","s":"KAN test","x":31.6,"y":3.16e-3},{"f":"sph_harm_m_2_n_2","s":"KAN test","x":39.8,"y":1.26e-3},{"f":"sph_harm_m_2_n_2","s":"KAN test","x":56.2,"y":1e-3},{"f":"sph_harm_m_2_n_2","s":"KAN test","x":79.4,"y":3.98e-4},{"f":"sph_harm_m_2_n_2","s":"KAN test","x":112,"y":2.24e-4},{"f":"sph_harm_m_2_n_2","s":"KAN test","x":158,"y":1.26e-4},{"f":"sph_harm_m_2_n_2","s":"KAN test","x":251,"y":1e-4},{"f":"sph_harm_m_2_n_2","s":"KAN test","x":447,"y":1e-4},{"f":"sph_harm_m_2_n_2","s":"KAN test","x":794,"y":5.62e-5},{"f":"sph_harm_m_2_n_2","s":"KAN test","x":1995,"y":3.98e-5},
{"f":"sph_harm_m_2_n_2","s":"MLP train","x":15.8,"y":1.58e-2},{"f":"sph_harm_m_2_n_2","s":"MLP train","x":39.8,"y":3.98e-3},{"f":"sph_harm_m_2_n_2","s":"MLP train","x":70.8,"y":5.62e-4},{"f":"sph_harm_m_2_n_2","s":"MLP train","x":79.4,"y":3.98e-4},{"f":"sph_harm_m_2_n_2","s":"MLP train","x":19953,"y":3.16e-4},
{"f":"sph_harm_m_2_n_2","s":"MLP test","x":15.8,"y":1.78e-2},{"f":"sph_harm_m_2_n_2","s":"MLP test","x":39.8,"y":7.94e-3},{"f":"sph_harm_m_2_n_2","s":"MLP test","x":70.8,"y":6.31e-4},{"f":"sph_harm_m_2_n_2","s":"MLP test","x":79.4,"y":4.47e-4},{"f":"sph_harm_m_2_n_2","s":"MLP test","x":19953,"y":3.98e-4}
]},
"facet": {"field": "f", "type": "nominal", "title": null,
  "header": {"title": null, "labelFontSize": 12, "labelColor": "black", "labelFont": "DejaVu Sans", "labelPadding": -18},
  "sort": ["ellipj","ellipkinc","ellipeinc","jv","yv","kv","iv","lpmv_m_0","lpmv_m_1","lpmv_m_2","sph_harm_m_0_n_1","sph_harm_m_1_n_1","sph_harm_m_0_n_2","sph_harm_m_1_n_2","sph_harm_m_2_n_2"]},
"columns": 5,
"spacing": {"row": -3, "column": 0},
"spec": {
  "width": 136,
  "height": 107,
  "layer": [
    {"mark": {"type": "line", "clip": true, "strokeWidth": 1.4},
     "encoding": {
       "x": {"field": "x", "type": "quantitative", "scale": {"type": "log", "domain": [10, 27700], "nice": false},
             "axis": {"title": "number of parameters", "grid": false,
                      "values": [10,20,30,40,50,60,70,80,90,100,200,300,400,500,600,700,800,900,1000,2000,3000,4000,5000,6000,7000,8000,9000,10000,20000],
                      "labelExpr": "datum.value == 10 ? '10¹' : datum.value == 100 ? '10²' : datum.value == 1000 ? '10³' : datum.value == 10000 ? '10⁴' : ''",
                      "tickSize": {"condition": {"test": "indexof([10,100,1000,10000], datum.value) >= 0", "value": 3.5}, "value": 2},
                      "labelOverlap": false, "labelFlush": false, "labelBound": false, "labelPadding": 1, "titlePadding": 1}},
       "y": {"field": "y", "type": "quantitative", "scale": {"type": "log", "domain": [1e-8, 1.12], "nice": false},
             "axis": {"title": "RMSE", "grid": false, "values": [0.1, 0.001, 0.00001, 0.0000001],
                      "labelExpr": "datum.value > 0.05 ? '10⁻¹' : datum.value > 0.0005 ? '10⁻³' : datum.value > 0.000005 ? '10⁻⁵' : '10⁻⁷'",
                      "tickSize": 3.5, "labelPadding": 2, "titlePadding": 4}},
       "color": {"field": "s", "type": "nominal", "title": null,
                 "scale": {"domain": ["KAN train","KAN test","MLP train","MLP test"], "range": ["#0000ff","#0000ff","#ffa500","#ffa500"]},
                 "legend": {"encode": {"symbols": {"update": {"fill": {"scale": "color", "field": "value"}}}}}},
       "strokeDash": {"field": "s", "type": "nominal", "title": null,
                 "scale": {"domain": ["KAN train","KAN test","MLP train","MLP test"], "range": [[5,2.5],[1,0],[5,2.5],[1,0]]}},
       "order": {"value": null}
     }},
    {"mark": {"type": "point", "filled": true, "size": 26, "opacity": 1, "clip": true},
     "encoding": {
       "x": {"field": "x", "type": "quantitative"},
       "y": {"field": "y", "type": "quantitative"},
       "color": {"field": "s", "type": "nominal", "title": null}
     }}
  ]
},
"config": {
  "font": "DejaVu Sans",
  "view": {"stroke": "black", "strokeWidth": 1},
  "axis": {"domainColor": "black", "tickColor": "black", "labelColor": "black", "titleColor": "black", "labelFontSize": 8, "titleFontSize": 9.5, "titleFontWeight": "normal", "tickWidth": 1, "domainWidth": 1},
  "legend": {"orient": "none", "legendX": 3.5, "legendY": 51, "fillColor": "rgba(255,255,255,0.8)", "strokeColor": "#cccccc", "cornerRadius": 3, "padding": 4,
             "symbolType": "M-1.6,0H1.6M0.3,0A0.3,0.3,0,1,1,-0.3,0A0.3,0.3,0,1,1,0.3,0Z", "symbolSize": 100, "symbolStrokeWidth": 1.4,
             "labelFontSize": 9, "labelColor": "black", "rowPadding": 1, "labelOffset": 8}
}
}
